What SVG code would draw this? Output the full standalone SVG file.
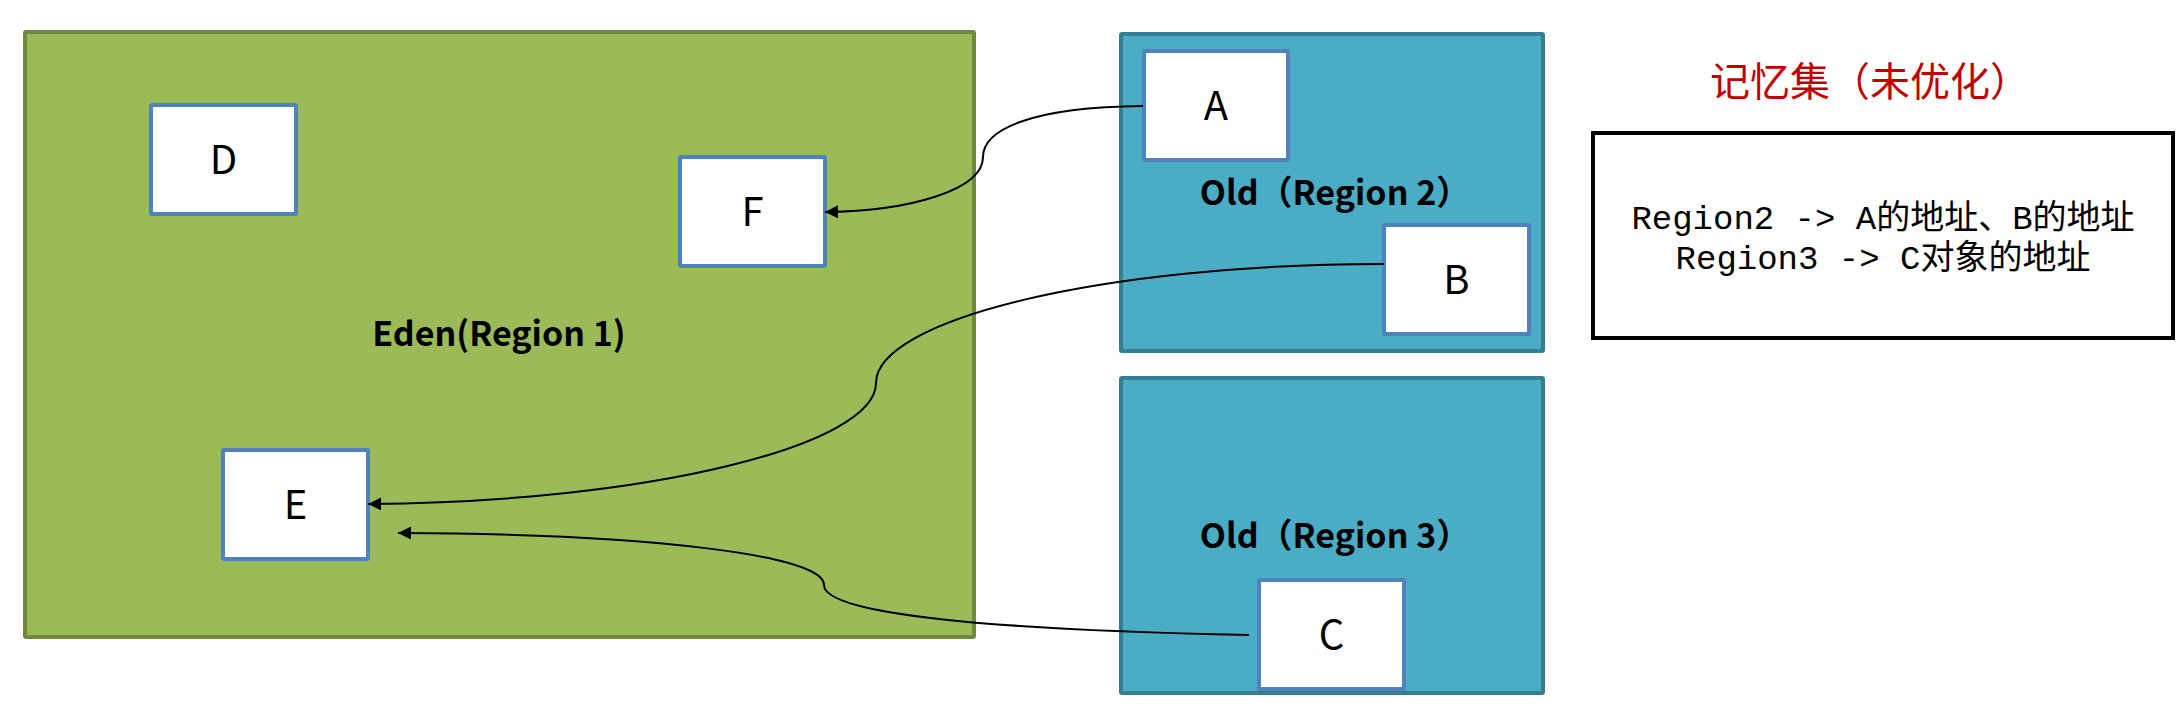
<svg xmlns="http://www.w3.org/2000/svg" width="2184" height="706" viewBox="0 0 2184 706">
  <style>
    .eden { fill: #9BBB59; stroke: #71893F; stroke-width: 4; }
    .old { fill: #4BACC6; stroke: #357D91; stroke-width: 4; }
    .obj { fill: #FFFFFF; stroke: #4F81BD; stroke-width: 4; }
    .objtxt { font-family: "Noto Sans CJK SC", "Liberation Sans", sans-serif; font-size: 40px; fill: #000; text-anchor: middle; }
    .region { font-family: "Noto Sans CJK SC", "Liberation Sans", sans-serif; font-size: 34px; font-weight: bold; fill: #000; text-anchor: middle; }
    .title { font-family: "Noto Sans CJK SC", sans-serif; font-size: 40px; fill: #C00000; }
    .rs { fill: #FFFFFF; stroke: #000; stroke-width: 4; }
    .rstxt { font-family: "Liberation Mono", "Noto Sans CJK SC", monospace; font-size: 34px; fill: #000; text-anchor: middle; }
    .conn { fill: none; stroke: #000; stroke-width: 2; }
  </style>
  <defs>
    <marker id="arrow" markerUnits="userSpaceOnUse" markerWidth="14" markerHeight="14" refX="13" refY="6.5" orient="auto">
      <path d="M0,0 L13,6.5 L0,13 z" fill="#000"/>
    </marker>
  </defs>

  <g id="eden-region">
    <rect class="eden" x="25" y="32" width="949" height="605" rx="1"/>
    <text class="region" x="499" y="346">Eden(Region 1)</text>
  </g>
  <g id="old-region2">
    <rect class="old" x="1121" y="34" width="422" height="317" rx="1"/>
    <text class="region" x="1335" y="205">Old（Region 2）</text>
  </g>
  <g id="old-region3">
    <rect class="old" x="1121" y="378" width="422" height="315" rx="1"/>
    <text class="region" x="1335" y="548">Old（Region 3）</text>
  </g>

  <g id="node-D">
    <rect class="obj" x="151" y="105" width="145" height="109" rx="1"/>
    <text class="objtxt" x="223.5" y="174">D</text>
  </g>
  <g id="node-F">
    <rect class="obj" x="680" y="157" width="145" height="109" rx="1"/>
    <text class="objtxt" x="752.5" y="226">F</text>
  </g>
  <g id="node-E">
    <rect class="obj" x="223" y="450" width="145" height="109" rx="1"/>
    <text class="objtxt" x="295.5" y="519">E</text>
  </g>
  <g id="node-A">
    <rect class="obj" x="1144" y="51" width="144" height="109" rx="1"/>
    <text class="objtxt" x="1216" y="120">A</text>
  </g>
  <g id="node-B">
    <rect class="obj" x="1384" y="225" width="145" height="109" rx="1"/>
    <text class="objtxt" x="1456.5" y="294">B</text>
  </g>
  <g id="node-C">
    <rect class="obj" x="1259" y="580" width="145" height="109" rx="1"/>
    <text class="objtxt" x="1331.5" y="649">C</text>
  </g>

  <g id="remembered-set">
    <text class="title" x="1710" y="96">记忆集（未优化）</text>
    <rect class="rs" x="1593" y="133" width="580" height="205"/>
    <text class="rstxt" x="1883" y="229">Region2 -&gt; A的地址、B的地址</text>
    <text class="rstxt" x="1883" y="269">Region3 -&gt; C对象的地址</text>
  </g>

  <g id="connectors">
    <path class="conn" marker-end="url(#arrow)" d="M1143,106 C1030,107 983,130 983,157 C983,190 910,211 825,212"/>
    <path class="conn" marker-end="url(#arrow)" d="M1384,264 C1100,264 876,320 876,383 C876,445 650,502 368,504"/>
    <path class="conn" marker-end="url(#arrow)" d="M1249,635 C1000,630 824,615 824,585 C824,555 650,534 398,533"/>
  </g>
</svg>
